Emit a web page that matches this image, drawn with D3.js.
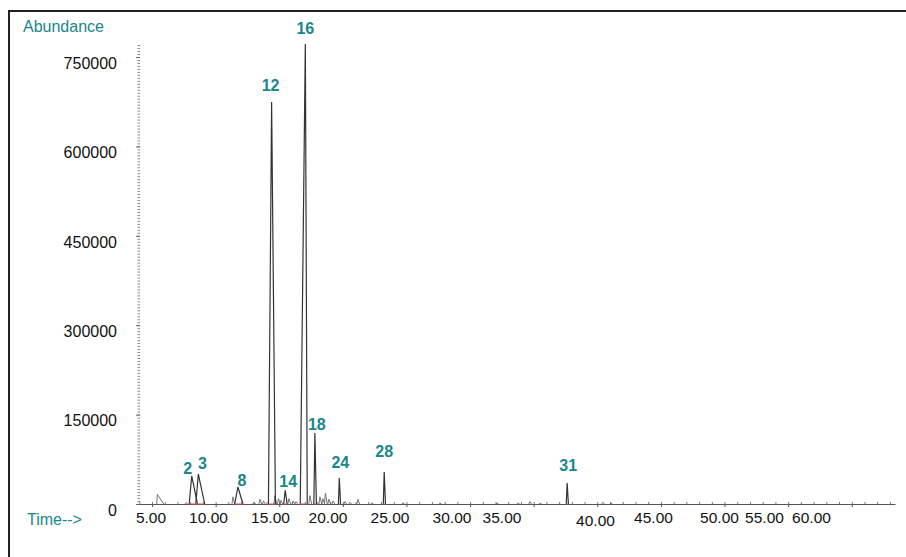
<!DOCTYPE html>
<html lang='en'>
<head>
  <meta charset='utf-8'>
  <title>Chromatogram</title>
  <script src='https://cdn.jsdelivr.net/npm/d3@7'></script>
  <style>
    body { margin: 0; background: #fff; }
    text { font-family: 'Liberation Sans', Arial, sans-serif; }
  </style>
</head>
<body>
  <script>
    // labelled peaks: retention time (min), abundance, rise / tail width (min)
    const peakLabels  = ["2", "3", "8", "12", "14", "16", "18", "24", "28", "31"];
    const peakTimes   = [8.12, 8.64, 11.75, 14.4, 15.47, 17.05, 17.8, 19.72, 23.25, 37.63];
    const peakHeights = [47000, 50300, 28500, 674500, 23000, 771800, 119000, 43600, 53700, 35000];
    const peakLead    = [0.2, 0.2, 0.25, 0.25, 0.12, 0.4, 0.08, 0.07, 0.07, 0.07];
    const peakTrail   = [0.45, 0.5, 0.4, 0.3, 0.15, 0.15, 0.12, 0.1, 0.1, 0.1];

    // small unlabelled peaks
    const minorTimes   = [5.42, 7.67, 11.36, 13.0, 13.48, 13.76, 14.66, 14.94, 15.13, 15.76, 16.08, 16.31,
                          17.41, 18.2, 18.43, 18.63, 18.9, 19.22, 20.16, 20.55, 21.18, 22.28, 24.72,
                          27.62, 32.1, 33.75, 34.7, 35.5, 40.43, 41.06];
    const minorHeights = [16000, 2500, 12000, 3000, 8000, 5000, 14000, 9000, 6000, 9000, 5000, 4000,
                          14000, 12000, 9000, 18000, 8000, 5000, 4000, 3000, 8000, 2000, 2000,
                          1500, 1500, 1500, 4000, 1500, 3000, 1500];

    // axis ticks
    const timeTicks = [5, 10, 15, 20, 25, 30, 35, 40, 45, 50, 55, 60];
    const abundanceTicks = [0, 150000, 300000, 450000, 600000, 750000];

    const width = 906, height = 557;
    const teal = "#17878a";

    let svg = d3.select("body").append("svg")
      .attr("width", width)
      .attr("height", height);

    // frame (top and left edges)
    svg.append("path")
      .attr("d", `M9,${height} V11 H${width}`)
      .attr("fill", "none")
      .attr("stroke", "#222")
      .attr("stroke-width", 2);

    let x = d3.scaleLinear().domain([3.74, 63.4]).range([136, 895]);
    let y = d3.scaleLinear().domain([0, 750000]).range([504, 57]);
    // the printed time labels sit off their ticks, so they get their own scale
    let labelX = d3.scaleLinear()
      .domain(timeTicks)
      .range([151, 208.5, 270.5, 328, 390, 452, 502, 595.5, 653.5, 719.5, 764.5, 811.5]);

    // x axis: baseline with minute ticks
    let xMinor = svg.append("g")
      .attr("transform", `translate(0,${y(0)})`)
      .call(d3.axisBottom(x).tickValues(d3.range(4, 64)).tickSizeInner(-2).tickSizeOuter(0).tickFormat(""));
    xMinor.select(".domain").attr("stroke", "#555");
    xMinor.selectAll(".tick line").attr("stroke", "#777");
    let xMajor = svg.append("g")
      .attr("transform", `translate(0,${y(0)})`)
      .call(d3.axisBottom(x).tickValues(timeTicks).tickSize(3).tickFormat(""));
    xMajor.select(".domain").remove();
    xMajor.selectAll(".tick line").attr("stroke", "#555");

    svg.append("g").selectAll("text").data(timeTicks).join("text")
      .attr("x", d => labelX(d))
      .attr("y", d => d === 40 ? 526 : 523)
      .attr("text-anchor", "middle")
      .attr("font-size", 15.5)
      .attr("fill", "#111")
      .text(d => d3.format(".2f")(d));

    // y axis: dotted column of small ticks, no spine
    let yMinor = svg.append("g")
      .attr("transform", "translate(140,0)")
      .call(d3.axisLeft(y).tickValues(d3.range(0, 770001, 5000)).tickSize(2.5).tickFormat(""));
    yMinor.select(".domain").remove();
    yMinor.selectAll(".tick line").attr("stroke", "#888");
    let yMajor = svg.append("g")
      .attr("transform", "translate(140,0)")
      .call(d3.axisLeft(y).tickValues(abundanceTicks).tickSize(4).tickPadding(19).tickFormat(d3.format("d")));
    yMajor.select(".domain").remove();
    yMajor.selectAll(".tick line").attr("stroke", "#666");
    yMajor.selectAll("text")
      .attr("font-size", 16)
      .attr("font-family", "'Liberation Sans', Arial, sans-serif")
      .attr("fill", "#111")
      .attr("dy", "0.7em");

    // axis titles
    svg.append("text").text("Abundance")
      .attr("x", 23).attr("y", 31.5)
      .attr("font-size", 16)
      .attr("fill", teal);
    svg.append("text").text("Time-->")
      .attr("x", 27).attr("y", 525)
      .attr("font-size", 16)
      .attr("fill", teal);

    // each peak drawn as rise / apex / return to baseline
    let line = d3.line().x(d => x(d[0])).y(d => y(d[1]));

    let minor = minorTimes.map((t, i) => ({ t: t, h: minorHeights[i], lead: 0.08, trail: 0.14 }));
    minor[0].lead = 0.05; minor[0].trail = 0.5;
    let peaks = peakLabels.map((lab, i) => ({
      label: lab, t: peakTimes[i], h: peakHeights[i], lead: peakLead[i], trail: peakTrail[i]
    }));

    svg.append("g").selectAll("path").data(minor).join("path")
      .attr("d", d => line([[d.t - d.lead, 0], [d.t, d.h], [d.t + d.trail, 0]]))
      .attr("fill", "none")
      .attr("stroke", "#666")
      .attr("stroke-width", 0.9);

    svg.append("g").selectAll("path").data(peaks).join("path")
      .attr("d", d => line([[d.t - d.lead, 0], [d.t, d.h], [d.t + d.trail, 0]]))
      .attr("fill", "none")
      .attr("stroke", "#333")
      .attr("stroke-width", 1.2)
      .attr("stroke-linejoin", "miter");

    // integration baselines under the labelled peaks
    svg.append("g").selectAll("path").data(peaks).join("path")
      .attr("d", d => line([[d.t - d.lead, 0], [d.t + d.trail, 0]]))
      .attr("stroke", "#e0505a")
      .attr("stroke-width", 1.2)
      .attr("opacity", 0.8);

    // peak numbers, placed as in the print: [dx, gap above apex]
    const labelPlace = {
      "2": [-4, 2], "3": [4, 5], "8": [4, 1], "12": [-1, 11], "14": [3, 3],
      "16": [0, 10], "18": [2, 3], "24": [1, 10], "28": [0, 15], "31": [1, 12]
    };
    svg.append("g").selectAll("text").data(peaks).join("text")
      .attr("x", d => x(d.t) + labelPlace[d.label][0])
      .attr("y", d => y(d.h) - labelPlace[d.label][1])
      .attr("text-anchor", "middle")
      .attr("font-size", 16)
      .attr("font-weight", "bold")
      .attr("fill", teal)
      .text(d => d.label);
  </script>
</body>
</html>
